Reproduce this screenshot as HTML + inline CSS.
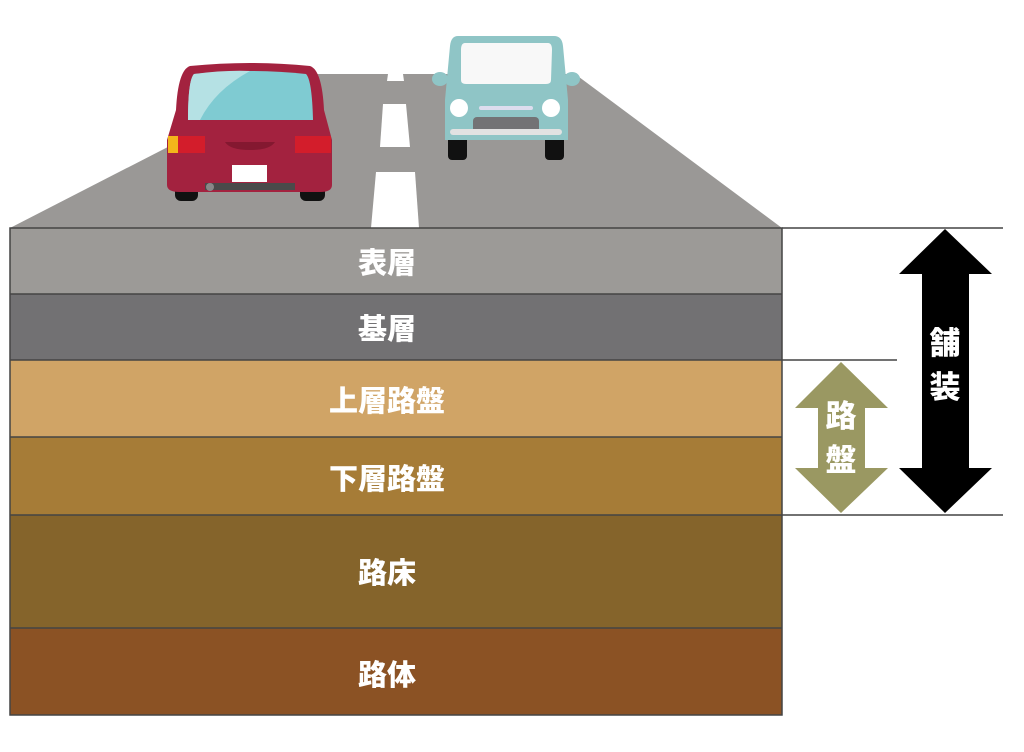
<!DOCTYPE html>
<html><head><meta charset="utf-8"><style>
html,body{margin:0;padding:0;background:#fff;width:1024px;height:752px;overflow:hidden}
svg{display:block}
text{font-family:"Liberation Sans","Noto Sans CJK JP",sans-serif;font-weight:900;fill:#fff}
</style></head><body>
<svg width="1024" height="752" viewBox="0 0 1024 752">
<polygon points="310,74 575,74 782,228 10,228" fill="#9a9896"/>
<polygon points="388,74 403,74 404,81 387,81" fill="#fff"/>
<polygon points="383,104 406,104 410,147 380,147" fill="#fff"/>
<polygon points="376,172 415,172 419,228 371,228" fill="#fff"/>
<rect x="175" y="180" width="23" height="21" rx="6" fill="#111"/>
<rect x="300" y="180" width="25" height="21" rx="6" fill="#111"/>
<path d="M190,66 Q250,60 310,66 Q322,70 324,110 L332,140 L332,185 Q332,192 320,192 L180,192 Q167,192 167,185 L167,140 L176,110 Q178,70 190,66Z" fill="#a3223f"/>
<path d="M194,74 Q250,68 306,74 Q312,80 313,120 L188,120 Q188,80 194,74Z" fill="#7fcbd2"/>
<path d="M194,74 Q225,70 250,71 Q215,90 200,120 L188,120 Q188,80 194,74Z" fill="#b5e1e4"/>
<rect x="168" y="136" width="10" height="17" fill="#f3b51b"/>
<rect x="178" y="136" width="27" height="17" fill="#d31d2b"/>
<rect x="295" y="136" width="36" height="17" fill="#d31d2b"/>
<path d="M225,142 L275,142 Q270,150 250,150 Q230,150 225,142Z" fill="#841830"/>
<rect x="232" y="165" width="35" height="17" fill="#fff"/>
<rect x="205" y="183" width="90" height="7" fill="#4a4a4a"/>
<circle cx="210" cy="187" r="4" fill="#888"/>
<rect x="448" y="136" width="19" height="24" rx="4" fill="#111"/>
<rect x="545" y="136" width="19" height="24" rx="4" fill="#111"/>
<ellipse cx="440" cy="79" rx="8" ry="7" fill="#8fc5c6"/>
<ellipse cx="572" cy="79" rx="8" ry="7" fill="#8fc5c6"/>
<path d="M458,36 L554,36 Q562,36 563,46 L568,100 L568,140 L445,140 L445,100 L450,46 Q451,36 458,36Z" fill="#8fc5c6"/>
<path d="M465,43 L548,43 Q552,43 552,50 L551,80 Q551,84 546,84 L466,84 Q461,84 461,80 L461,50 Q461,43 465,43Z" fill="#f8f8f8"/>
<circle cx="459" cy="108" r="9" fill="#fff"/>
<circle cx="551" cy="108" r="9" fill="#fff"/>
<rect x="479" y="106" width="54" height="4" rx="2" fill="#dde"/>
<rect x="473" y="117" width="66" height="17" rx="4" fill="#737375"/>
<rect x="450" y="129" width="112" height="6" rx="3" fill="#e2e2e2"/>
<rect x="10" y="228" width="772" height="66" fill="#9c9a97"/>
<rect x="10" y="294" width="772" height="66" fill="#727173"/>
<rect x="10" y="360" width="772" height="77" fill="#d0a466"/>
<rect x="10" y="437" width="772" height="78" fill="#a67c37"/>
<rect x="10" y="515" width="772" height="113" fill="#85642b"/>
<rect x="10" y="628" width="772" height="87" fill="#8b5224"/>
<g stroke="#444" stroke-width="1.5" fill="none">
<rect x="10" y="228" width="772" height="487"/>
<line x1="10" y1="294" x2="782" y2="294"/>
<line x1="10" y1="360" x2="897" y2="360"/>
<line x1="10" y1="437" x2="782" y2="437"/>
<line x1="10" y1="515" x2="1003" y2="515"/>
<line x1="10" y1="628" x2="782" y2="628"/>
<line x1="782" y1="228" x2="1003" y2="228"/>
</g>
<g font-size="29" text-anchor="middle">
<text x="387" y="273">表層</text>
<text x="387" y="339">基層</text>
<text x="387" y="411">上層路盤</text>
<text x="387" y="489">下層路盤</text>
<text x="387" y="583">路床</text>
<text x="387" y="685">路体</text>
</g>
<polygon points="945,229 992,274 969,274 969,468 992,468 945,513 899,468 922,468 922,274 899,274" fill="#000"/>
<polygon points="841,362 888,408 865,408 865,468 888,468 841,513 795,468 818,468 818,408 795,408" fill="#9a9862"/>
<g font-size="31" text-anchor="middle">
<text x="945" y="354">舗</text>
<text x="945" y="398">装</text>
<text x="841" y="427">路</text>
<text x="841" y="471">盤</text>
</g>
</svg>
</body></html>
